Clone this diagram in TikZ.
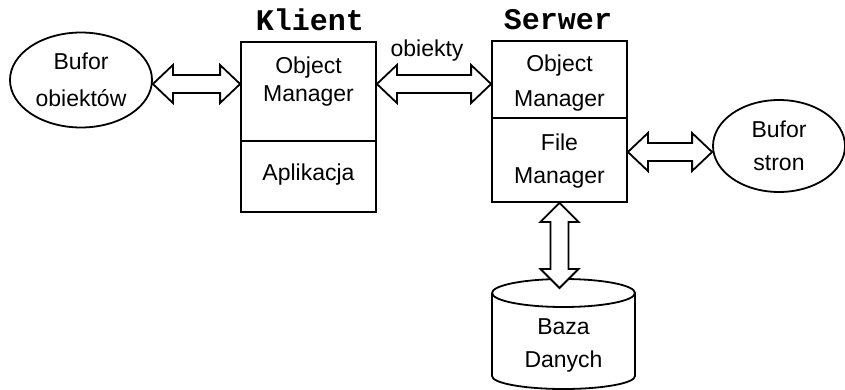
\documentclass[tikz,border=0pt]{standalone}
\usepackage{fontspec}
\setmainfont{Liberation Sans}
\newfontfamily\monob{Liberation Mono}
\usetikzlibrary{shapes.geometric,calc}
\newcommand\hdbl[2]{\draw[arr] let \p1=#1, \p2=#2 in
  (\x1,\y1) -- (\x1+20pt,\y1+19pt) -- (\x1+20pt,\y1+9pt) -- (\x2-20pt,\y1+9pt) -- (\x2-20pt,\y1+19pt)
  -- (\x2,\y1) -- (\x2-20pt,\y1-19pt) -- (\x2-20pt,\y1-9pt) -- (\x1+20pt,\y1-9pt) -- (\x1+20pt,\y1-19pt) -- cycle;}
\newcommand\vdbl[2]{\draw[arr] let \p1=#1, \p2=#2 in
  (\x1,\y1) -- (\x1+19pt,\y1-19pt) -- (\x1+9pt,\y1-19pt) -- (\x1+9pt,\y2+19pt) -- (\x1+19pt,\y2+19pt)
  -- (\x1,\y2) -- (\x1-19pt,\y2+19pt) -- (\x1-9pt,\y2+19pt) -- (\x1-9pt,\y1-19pt) -- (\x1-19pt,\y1-19pt) -- cycle;}
\begin{document}
\begin{tikzpicture}[x=1pt,y=-1pt,line width=1.8pt,
  txt/.style={font=\fontsize{23}{#1}\selectfont, align=center, inner sep=0pt},
  txt/.default=33,
  ttl/.style={font=\monob\bfseries\fontsize{30}{31}\selectfont, inner sep=0pt},
  box/.style={draw, rectangle, inner sep=0pt},
  ell/.style={draw, ellipse, inner sep=0pt, font=\fontsize{23}{#1}\selectfont, align=center},
  ell/.default=33,
  arr/.style={draw, fill=white, line join=miter}]
\useasboundingbox (0,0) rectangle (845,390);
% titles
\node[ttl] (kT) at (310,20) {Klient};
\node[ttl] (sT) at (558,20) {Serwer};
% boxes
\node[box, minimum width=135pt, minimum height=99pt] (kOM) at (308.5,91.5) {};
\node[box, minimum width=135pt, minimum height=71pt] (kApp) at (308.5,176.5) {};
\node[box, minimum width=135pt, minimum height=77pt] (sOM) at (559.5,79.5) {};
\node[box, minimum width=135pt, minimum height=84pt] (sFM) at (559.5,160) {};
\node[txt=28] (tKOM) at (308.5,81.2) {Object\\Manager};
\node[txt] (tApp) at (308.5,175) {Aplikacja};
\node[txt=35] (tSOM) at (559.5,82.7) {Object\\Manager};
\node[txt=33] (tSFM) at (559.5,160.7) {File\\Manager};
% ellipses
\node[ell=37, minimum width=142pt, minimum height=95pt] (lb) at (81,80) {Bufor\\obiektów};
\node[ell=33, minimum width=132pt, minimum height=92pt] (rb) at (779,146) {Bufor\\stron};
% database cylinder
\draw[fill=white] (492,293) -- (492,376) arc[start angle=180,end angle=360,x radius=71.5pt,y radius=13pt] -- (635,293);
\draw (563.5,293) ellipse [x radius=71.5pt, y radius=14pt];
\node[txt] (db) at (563.5,345.7) {Baza\\Danych};
\coordinate (dbtop) at (560,288);
% label
\node[txt] (lbl) at (427,51) {obiekty};
% arrows
\hdbl{([yshift=-4pt]lb.east)}{(kOM.west)}
\hdbl{([yshift=7.5pt]kOM.east)}{(sOM.west)}
\hdbl{([yshift=8pt]sFM.east)}{(rb.west)}
\vdbl{(sFM.south)}{(dbtop)}
\end{tikzpicture}
\end{document}
